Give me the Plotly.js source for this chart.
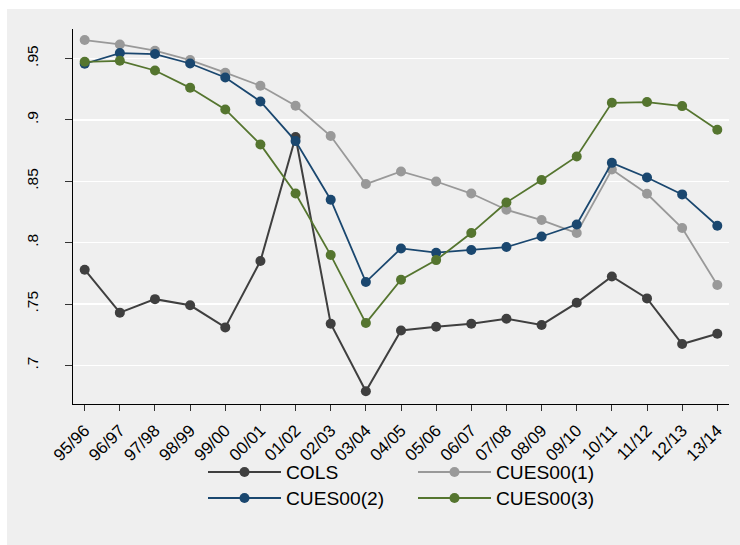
<!DOCTYPE html>
<html>
<head>
<meta charset="utf-8">
<script src="https://cdn.plot.ly/plotly-3.0.1.min.js"></script>
<style>
html,body{margin:0;padding:0;background:#ffffff;width:740px;height:545px;overflow:hidden;}
#chart{position:absolute;left:7px;top:9px;width:733px;height:536px;}
</style>
</head>
<body>
<div id="chart"></div>
<script>
const years = ["95/96","96/97","97/98","98/99","99/00","00/01","01/02","02/03","03/04","04/05","05/06","06/07","07/08","08/09","09/10","10/11","11/12","12/13","13/14"];
const cols    = [0.778,0.743,0.754,0.749,0.731,0.785,0.886,0.734,0.679,0.7285,0.7315,0.734,0.738,0.733,0.751,0.7725,0.7546,0.7174,0.7258];
const cues1   = [0.965,0.9614,0.9563,0.9487,0.9384,0.9278,0.9115,0.8868,0.8477,0.858,0.8498,0.840,0.8268,0.8184,0.8078,0.8596,0.8398,0.8119,0.7655];
const cues2   = [0.9457,0.9544,0.9536,0.9459,0.9345,0.915,0.8827,0.835,0.7679,0.7953,0.7918,0.794,0.7964,0.805,0.8148,0.865,0.8531,0.8393,0.8138];
const cues3   = [0.9473,0.9481,0.9402,0.9261,0.9085,0.880,0.840,0.7899,0.7345,0.7698,0.7858,0.8078,0.8327,0.851,0.8702,0.9139,0.9145,0.9112,0.8919];
const yTickVals = [0.7,0.75,0.8,0.85,0.9,0.95];
const yTickText = [".7",".75",".8",".85",".9",".95"];

const FONT = "Liberation Sans, Arial, Helvetica, sans-serif";
function tr(name, y, color, lw, legend){
  return {x: years, y: y, name: name, type: "scatter", mode: "lines+markers",
    line: {color: color, width: lw}, marker: {color: color, size: 10},
    legend: legend};
}
const data = [
  tr("COLS", cols, "#3f3f3f", 2, "legend"),
  tr("CUES00(1)", cues1, "#999999", 1.8, "legend"),
  tr("CUES00(2)", cues2, "#1a476f", 1.8, "legend2"),
  tr("CUES00(3)", cues3, "#55752f", 1.8, "legend2")
];
const W = 733, H = 536;
const legBase = {orientation: "h", xref: "container", yref: "container",
  xanchor: "left", yanchor: "middle", bgcolor: "rgba(0,0,0,0)", borderwidth: 0,
  font: {family: FONT, size: 19.2, color: "#000"}, itemwidth: 73, entrywidth: 122, entrywidthmode: "pixels",
  traceorder: "normal"};
const layout = {
  width: W, height: H,
  paper_bgcolor: "#efefef", plot_bgcolor: "#efefef",
  margin: {l: 66.3, r: 10.7, t: 20.3, b: 140.7},
  font: {family: FONT, color: "#000"},
  showlegend: true,
  legend: Object.assign({}, legBase, {x: 196/W, y: 1 - 463/H}),
  legend2: Object.assign({}, legBase, {x: 196/W, y: 1 - 489/H}),
  xaxis: {type: "category", range: [-0.333, 18.333], showgrid: false, zeroline: false,
    showline: true, linecolor: "#000", linewidth: 1,
    ticks: "outside", ticklen: 6, tickcolor: "#333", tickwidth: 1,
    tickangle: -45, tickfont: {family: FONT, size: 17, color: "#000"}, ticklabelstandoff: 3},
  yaxis: {range: [0.6686, 0.974], showgrid: true, gridcolor: "#ffffff", gridwidth: 1.5, zeroline: false,
    showline: true, linecolor: "#000", linewidth: 1,
    ticks: "outside", ticklen: 7, tickcolor: "#333", tickwidth: 1,
    tickvals: yTickVals, ticktext: yTickText, tickangle: -90,
    tickfont: {family: FONT, size: 15.5, color: "#000"}, ticklabelstandoff: 21}
};
Plotly.newPlot("chart", data, layout, {displayModeBar: false, staticPlot: true});
</script>
</body>
</html>
